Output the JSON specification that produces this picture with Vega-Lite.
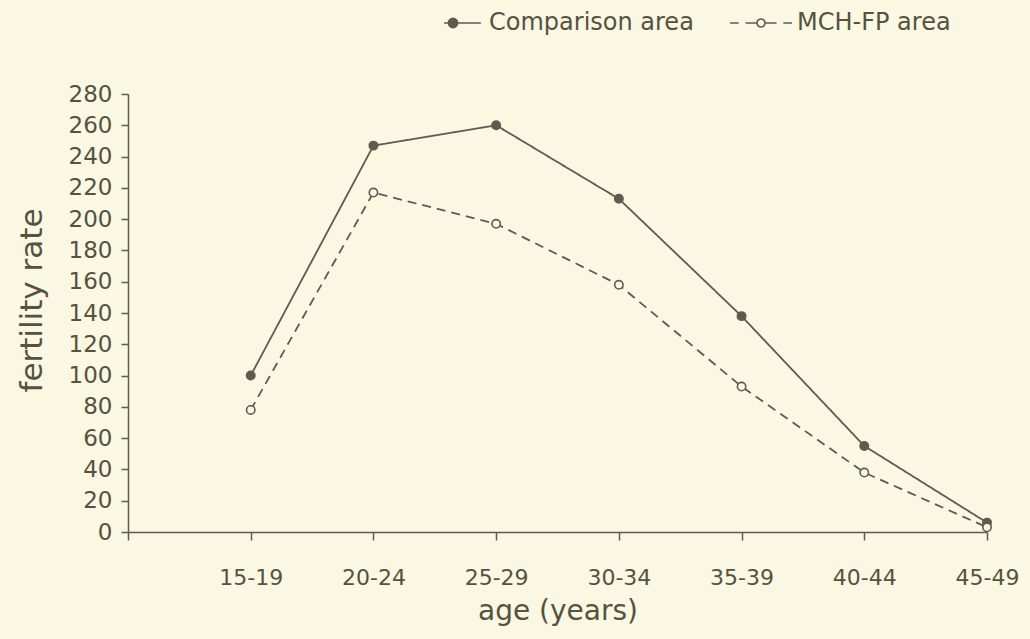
{
  "$schema": "https://vega.github.io/schema/vega-lite/v6.json",
  "width": 859,
  "height": 438,
  "autosize": "none",
  "padding": {"left": 128, "top": 94, "right": 43, "bottom": 107},
  "background": "#faf8e2",
  "config": {
    "view": {"stroke": null},
    "font": "DejaVu Sans",
    "axis": {
      "grid": false,
      "domainColor": "#5f5b4d",
      "domainWidth": 1.5,
      "tickColor": "#5f5b4d",
      "tickWidth": 1.5,
      "labelColor": "#55523f",
      "titleColor": "#55523f",
      "titleFontWeight": "normal",
      "labelFont": "DejaVu Sans",
      "titleFont": "DejaVu Sans"
    },
    "legend": {
      "orient": "none",
      "direction": "horizontal",
      "legendX": 293,
      "legendY": -103,
      "symbolSize": 3844,
      "symbolStrokeWidth": 1.5,
      "symbolStrokeColor": "#5f5b4d",
      "symbolOpacity": 1,
      "labelFontSize": 24,
      "labelFont": "DejaVu Sans",
      "labelColor": "#55523f",
      "labelOffset": 4,
      "columnPadding": 32,
      "labelLimit": 400
    }
  },
  "data": {
    "values": [
      {"age": "15-19", "series": "Comparison area", "rate": 100},
      {"age": "20-24", "series": "Comparison area", "rate": 247},
      {"age": "25-29", "series": "Comparison area", "rate": 260},
      {"age": "30-34", "series": "Comparison area", "rate": 213},
      {"age": "35-39", "series": "Comparison area", "rate": 138},
      {"age": "40-44", "series": "Comparison area", "rate": 55},
      {"age": "45-49", "series": "Comparison area", "rate": 6},
      {"age": "15-19", "series": "MCH-FP area", "rate": 78},
      {"age": "20-24", "series": "MCH-FP area", "rate": 217},
      {"age": "25-29", "series": "MCH-FP area", "rate": 197},
      {"age": "30-34", "series": "MCH-FP area", "rate": 158},
      {"age": "35-39", "series": "MCH-FP area", "rate": 93},
      {"age": "40-44", "series": "MCH-FP area", "rate": 38},
      {"age": "45-49", "series": "MCH-FP area", "rate": 3}
    ]
  },
  "encoding": {
    "x": {
      "field": "age",
      "type": "ordinal",
      "scale": {"type": "point", "domain": ["", "15-19", "20-24", "25-29", "30-34", "35-39", "40-44", "45-49"], "padding": 0},
      "axis": {
        "title": "age (years)",
        "labelAngle": 0,
        "tickSize": 8,
        "labelPadding": 27,
        "labelFontSize": 22,
        "titleFontSize": 28,
        "titlePadding": 9
      }
    },
    "y": {
      "field": "rate",
      "type": "quantitative",
      "scale": {"domain": [0, 280], "nice": false},
      "axis": {
        "title": "fertility rate",
        "values": [0, 20, 40, 60, 80, 100, 120, 140, 160, 180, 200, 220, 240, 260, 280],
        "tickSize": 7,
        "labelPadding": 9,
        "labelFontSize": 23,
        "titleFontSize": 31,
        "titleX": -80,
        "titleY": 206,
        "titleAngle": -90,
        "titleAlign": "center",
        "titleBaseline": "bottom"
      }
    }
  },
  "layer": [
    {
      "mark": {"type": "line", "strokeWidth": 1.8, "color": "#5f5b4d"},
      "encoding": {
        "strokeDash": {
          "field": "series",
          "type": "nominal",
          "scale": {"range": [[1, 0], [9, 6]]},
          "legend": null
        }
      }
    },
    {
      "mark": {"type": "point", "filled": true, "stroke": "#5f5b4d", "strokeWidth": 1.6, "size": 70, "opacity": 1},
      "encoding": {
        "fill": {
          "field": "series",
          "type": "nominal",
          "scale": {"domain": ["Comparison area", "MCH-FP area"], "range": ["#5f5b4d", "#faf8e2"]}
        }
      }
    },
    {
      "mark": {"type": "point", "filled": true, "stroke": "#5f5b4d", "strokeWidth": 1.5, "opacity": 1, "size": 0},
      "encoding": {
        "shape": {
          "field": "series",
          "type": "nominal",
          "scale": {
            "domain": ["Comparison area", "MCH-FP area"],
            "range": [
              "M-0.29,0L0.9,0M0.15,0A0.15,0.15,0,1,1,-0.15,0A0.15,0.15,0,1,1,0.15,0Z",
              "M-1,0L-0.72,0M-0.5,0L-0.13,0M0.13,0L0.5,0M0.72,0L1,0M0.13,0A0.13,0.13,0,1,1,-0.13,0A0.13,0.13,0,1,1,0.13,0Z"
            ]
          },
          "legend": {
            "title": null,
            "orient": "none",
            "direction": "horizontal",
            "legendX": 293,
            "legendY": -103,
            "encode": {
              "symbols": {
                "update": {
                  "stroke": {"value": "#5f5b4d"},
                  "strokeWidth": {"value": 1.6},
                  "opacity": {"value": 1}
                }
              }
            }
          }
        },
        "fill": {
          "field": "series",
          "type": "nominal",
          "scale": {"domain": ["Comparison area", "MCH-FP area"], "range": ["#5f5b4d", "#faf8e2"]},
          "legend": {
            "title": null,
            "orient": "none",
            "direction": "horizontal",
            "legendX": 293,
            "legendY": -103,
            "encode": {
              "symbols": {
                "update": {
                  "stroke": {"value": "#5f5b4d"},
                  "strokeWidth": {"value": 1.6},
                  "opacity": {"value": 1}
                }
              }
            }
          }
        }
      }
    }
  ]
}
